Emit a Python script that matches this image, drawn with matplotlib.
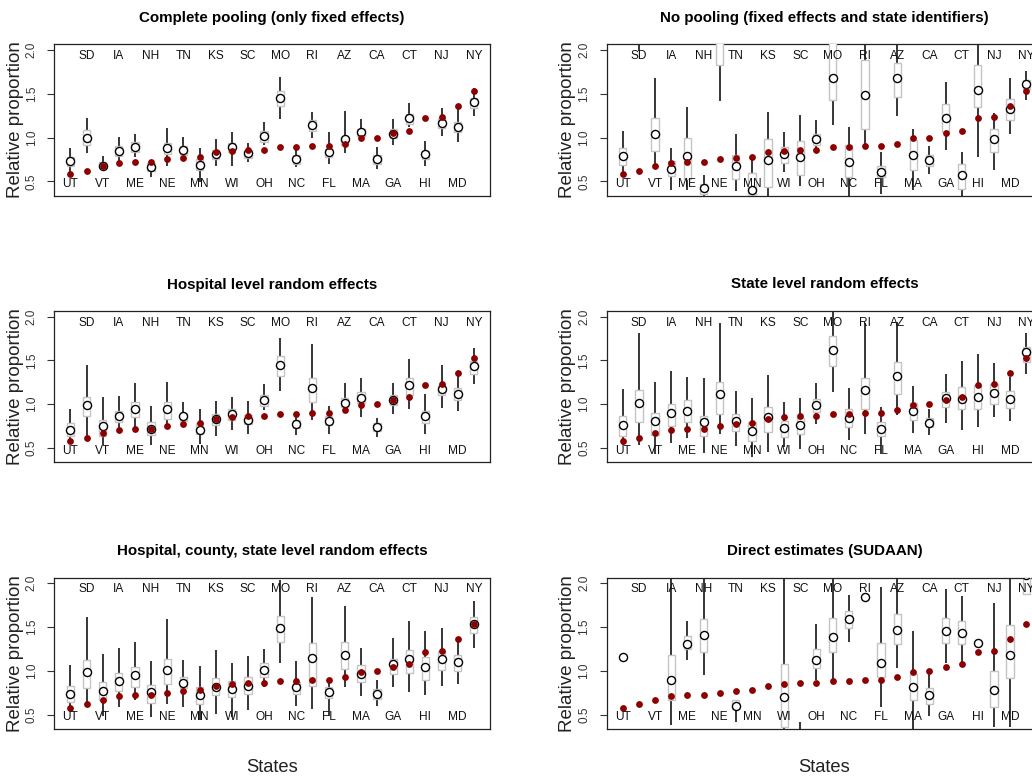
import numpy as np
import matplotlib
matplotlib.use('Agg')
import matplotlib.pyplot as plt

plt.rcParams['font.family'] = ['Liberation Sans', 'DejaVu Sans']

nan = np.nan

states = ["UT", "SD", "VT", "IA", "ME", "NH", "NE", "TN", "MN", "KS", "WI", "SC", "OH",
          "MO", "NC", "RI", "FL", "AZ", "MA", "CA", "GA", "CT", "HI", "NJ", "MD", "NY"]

observed = [0.58, 0.62, 0.67, 0.71, 0.72, 0.72, 0.75, 0.77, 0.78, 0.83, 0.85, 0.86, 0.86,
            0.89, 0.89, 0.90, 0.90, 0.93, 0.99, 1.00, 1.05, 1.08, 1.22, 1.23, 1.36, 1.53]

titles = ["Complete pooling (only fixed effects)",
          "No pooling (fixed effects and state identifiers)",
          "Hospital level random effects",
          "State level random effects",
          "Hospital, county, state level random effects",
          "Direct estimates (SUDAAN)"]

# Panel 1: complete pooling
p1_wlo = [.55, .82, .63, .72, .78, .55, .67, .74, .49, .68, .68, .72, .91, 1.21, .66, 1.0, .70, .82, .99, .64, .92, 1.12, .68, 1.015, .95, 1.24]
p1_q1 = [.68, .91, .65, .79, .84, .62, .81, .80, .63, .75, .83, .77, .95, 1.36, .70, 1.08, .78, .91, 1.02, .70, .99, 1.16, .76, 1.11, 1.065, 1.34]
p1_med = [.73, 1.0, .68, .85, .89, .66, .88, .855, .69, .81, .89, .82, 1.02, 1.45, .75, 1.14, .83, .98, 1.065, .75, 1.045, 1.22, .81, 1.17, 1.12, 1.40]
p1_q3 = [.78, 1.09, .72, .90, .95, .71, .94, .90, .75, .855, .94, .855, 1.08, 1.53, .80, 1.20, .87, 1.01, 1.10, .80, 1.10, 1.27, .85, 1.22, 1.18, 1.45]
p1_whi = [.885, 1.22, .79, 1.01, 1.04, .74, 1.11, 1.01, .885, .98, 1.06, .94, 1.18, 1.69, .89, 1.29, 1.065, 1.30, 1.21, .89, 1.21, 1.39, .96, 1.34, 1.37, 1.56]

# Panel 2: no pooling
p2_wlo = [.59, 1.99, .665, .405, .40, .25, 1.415, .385, .25, .30, .61, .45, .875, 1.14, .30, .91, .36, 1.245, .40, .58, .855, .30, .78, .635, 1.035, 1.43]
p2_q1 = [.69, 2.2, .85, .56, .53, .36, 1.83, .53, .34, .43, .71, .57, .91, 1.43, .55, 1.095, .55, 1.465, .63, .68, 1.065, .415, 1.35, .835, 1.2, 1.55]
p2_med = [.79, 2.5, 1.045, .645, .79, .42, 2.2, .68, .405, .74, .81, .78, .98, 1.68, .72, 1.49, .61, 1.675, .805, .74, 1.22, .575, 1.54, .98, 1.33, 1.61]
p2_q3 = [.885, 2.8, 1.225, .73, 1.0, .47, 2.5, .80, .59, .98, .89, .96, 1.045, 2.1, .91, 1.885, .68, 1.845, .97, .805, 1.38, .70, 1.83, 1.10, 1.445, 1.66]
p2_whi = [1.07, 3.2, 1.675, .875, 1.345, .57, 3.0, 1.04, .78, 1.29, 1.065, 1.255, 1.2, 2.5, 1.115, 2.3, .83, 2.2, 1.10, .90, 1.63, .83, 2.2, 1.28, 1.68, 1.76]

# Panel 3: hospital level random effects
p3_wlo = [.57, .63, .53, .72, .74, .53, .72, .74, .55, .64, .71, .665, .93, 1.15, .645, .815, .655, .93, .855, .625, .885, .95, .655, .96, .925, 1.235]
p3_q1 = [.64, .86, .64, .80, .855, .645, .835, .81, .665, .76, .82, .77, .98, 1.32, .73, 1.03, .76, .97, 1.01, .695, .99, 1.10, .785, 1.10, 1.045, 1.35]
p3_med = [.71, .99, .75, .86, .95, .72, .95, .86, .71, .835, .89, .825, 1.045, 1.445, .77, 1.19, .81, 1.015, 1.07, .735, 1.045, 1.22, .86, 1.17, 1.115, 1.435]
p3_q3 = [.79, 1.085, .825, .92, 1.03, .80, 1.03, .905, .78, .89, .95, .875, 1.11, 1.55, .815, 1.295, .86, 1.075, 1.14, .78, 1.10, 1.295, .92, 1.225, 1.18, 1.49]
p3_whi = [.94, 1.45, 1.08, 1.09, 1.24, .98, 1.255, 1.02, .94, 1.035, 1.085, 1.035, 1.23, 1.76, .905, 1.69, .98, 1.245, 1.295, .845, 1.24, 1.52, 1.115, 1.445, 1.325, 1.64]

# Panel 4: state level random effects
p4_wlo = [.54, .53, .435, .56, .61, .44, .655, .52, .40, .455, .51, .49, .77, 1.14, .59, .655, .435, .875, .67, .645, .785, .71, .74, .85, .805, 1.345]
p4_q1 = [.635, .80, .645, .75, .80, .64, .885, .70, .58, .685, .625, .655, .91, 1.435, .74, .95, .635, 1.12, .815, .74, .97, .94, .94, 1.0, .96, 1.485]
p4_med = [.76, 1.01, .805, .90, .925, .80, 1.115, .81, .70, .855, .73, .76, .99, 1.62, .845, 1.16, .72, 1.32, .92, .79, 1.07, 1.065, 1.085, 1.13, 1.065, 1.60]
p4_q3 = [.865, 1.16, .90, 1.0, 1.045, .865, 1.255, .885, .80, .965, .81, .845, 1.065, 1.78, .94, 1.30, .80, 1.485, 1.015, .84, 1.14, 1.2, 1.215, 1.235, 1.15, 1.65]
p4_whi = [1.17, 1.81, 1.255, 1.38, 1.31, 1.295, 1.925, 1.15, 1.075, 1.33, 1.02, 1.075, 1.24, 2.2, 1.19, 1.925, .97, 1.94, 1.21, .94, 1.35, 1.49, 1.57, 1.465, 1.31, 1.81]

# Panel 5: hospital, county, state level random effects
p5_wlo = [.57, .625, .49, .59, .67, .475, .625, .59, .435, .51, .475, .55, .815, 1.085, .595, .57, .49, .815, .71, .605, .815, .76, .72, .83, .855, 1.265]
p5_q1 = [.645, .80, .665, .77, .815, .635, .855, .80, .625, .72, .70, .74, .93, 1.33, .735, .83, .695, 1.02, .875, .685, .97, .975, .895, 1.01, 1.0, 1.435]
p5_med = [.74, .99, .77, .88, .95, .76, 1.01, .86, .72, .815, .79, .83, 1.01, 1.495, .815, 1.15, .76, 1.18, .97, .74, 1.075, 1.14, 1.04, 1.14, 1.10, 1.53]
p5_q3 = [.825, 1.12, .875, .975, 1.05, .835, 1.14, .93, .815, .92, .88, .93, 1.085, 1.63, .875, 1.315, .815, 1.33, 1.065, .79, 1.14, 1.24, 1.155, 1.23, 1.18, 1.62]
p5_whi = [1.07, 1.61, 1.19, 1.265, 1.33, 1.115, 1.59, 1.13, 1.055, 1.235, 1.095, 1.165, 1.255, 2.04, 1.115, 1.84, .90, 1.745, 1.26, .90, 1.38, 1.57, 1.455, 1.495, 1.36, 1.80]

# Panel 6: direct estimates (SUDAAN)
p6_wlo = [nan, nan, nan, .38, 1.12, .95, nan, .42, nan, nan, .25, 0.0, .895, .895, 1.335, nan, .59, 1.035, .30, .49, 1.09, 1.075, nan, .355, .355, 1.88]
p6_q1 = [nan, nan, nan, .67, 1.245, 1.22, nan, .57, nan, nan, .36, 0.1, 1.03, 1.22, 1.495, nan, .93, 1.305, .67, .625, 1.32, 1.305, nan, .585, .915, 1.88]
p6_med = [1.16, nan, nan, .90, 1.31, 1.41, nan, .605, nan, nan, .70, 0.2, 1.12, 1.39, 1.59, 1.84, 1.085, 1.465, .815, .72, 1.46, 1.43, 1.32, .78, 1.18, 2.1]
p6_q3 = [nan, nan, nan, 1.18, 1.40, 1.59, nan, .67, nan, nan, 1.08, 0.3, 1.25, 1.60, 1.68, nan, 1.32, 1.645, .96, .81, 1.60, 1.57, nan, .995, 1.52, 2.3]
p6_whi = [nan, nan, nan, 2.2, 1.57, 2.2, nan, .67, nan, nan, 2.5, .42, 1.53, 2.3, 1.87, nan, 1.96, 2.3, 1.455, 1.0, 1.94, 1.855, nan, 1.77, 2.3, 2.5]

panels = [
    (p1_wlo, p1_q1, p1_med, p1_q3, p1_whi),
    (p2_wlo, p2_q1, p2_med, p2_q3, p2_whi),
    (p3_wlo, p3_q1, p3_med, p3_q3, p3_whi),
    (p4_wlo, p4_q1, p4_med, p4_q3, p4_whi),
    (p5_wlo, p5_q1, p5_med, p5_q3, p5_whi),
    (p6_wlo, p6_q1, p6_med, p6_q3, p6_whi),
]

W, H = 1032.0, 776.0
fig = plt.figure(figsize=(W / 100, H / 100), dpi=100)
fig.patch.set_facecolor('white')

lefts = [54.3, 606.7]
tops = [44.3, 311.0, 577.7]
aw, ah = 435.7, 151.4

x = np.arange(1, len(states) + 1)
red = '#8b0000'

for i, (wlo, q1, med, q3, whi) in enumerate(panels):
    r, c = divmod(i, 2)
    ax = fig.add_axes([lefts[c] / W, 1 - (tops[r] + ah) / H, aw / W, ah / H])
    wlo = np.array(wlo, float); q1 = np.array(q1, float); med = np.array(med, float)
    q3 = np.array(q3, float); whi = np.array(whi, float)

    ax.vlines(x, wlo, whi, color='black', lw=1.1, zorder=2)
    ax.bar(x, q3 - q1, bottom=q1, width=0.45, color='white', edgecolor='#c4c4c4',
           lw=1.0, zorder=3)
    ax.scatter(x, med, s=34, facecolor='white', edgecolor='black', lw=1.0, zorder=4)
    ax.scatter(x, observed, s=24, color=red, lw=0, zorder=5)

    for k, s in enumerate(states):
        yy = 0.47 if k % 2 == 0 else 1.93
        ax.text(k + 1, yy, s, ha='center', va='center', fontsize=8.6, color='#111111',
                zorder=6)

    ax.set_xlim(0, 27)
    ax.set_ylim(0.336, 2.064)
    ax.set_xticks([])
    ax.set_yticks([0.5, 1.0, 1.5, 2.0])
    ax.set_yticklabels(['0.5', '1.0', '1.5', '2.0'])
    ax.tick_params(axis='y', length=5.3, width=0.8, pad=6.5, labelsize=8.5,
                   labelrotation=90, colors='#333333')
    for lab in ax.get_yticklabels():
        lab.set_va('center')
    for sp in ax.spines.values():
        sp.set_linewidth(0.9)
        sp.set_color('#222222')

    ax.text(0.5, 1 + 26.5 / ah, titles[i], transform=ax.transAxes, ha='center',
            va='center', fontsize=10.9, fontweight='bold', color='black')
    ax.text(-39.0 / aw, 0.5, 'Relative proportion', transform=ax.transAxes,
            rotation=90, ha='center', va='center', fontsize=13.5, color='#222222')
    if r == 2:
        ax.text(0.5, -38.7 / ah, 'States', transform=ax.transAxes, ha='center',
                va='center', fontsize=13.2, color='#222222')

fig.savefig('out.png', dpi=100, facecolor='white')
